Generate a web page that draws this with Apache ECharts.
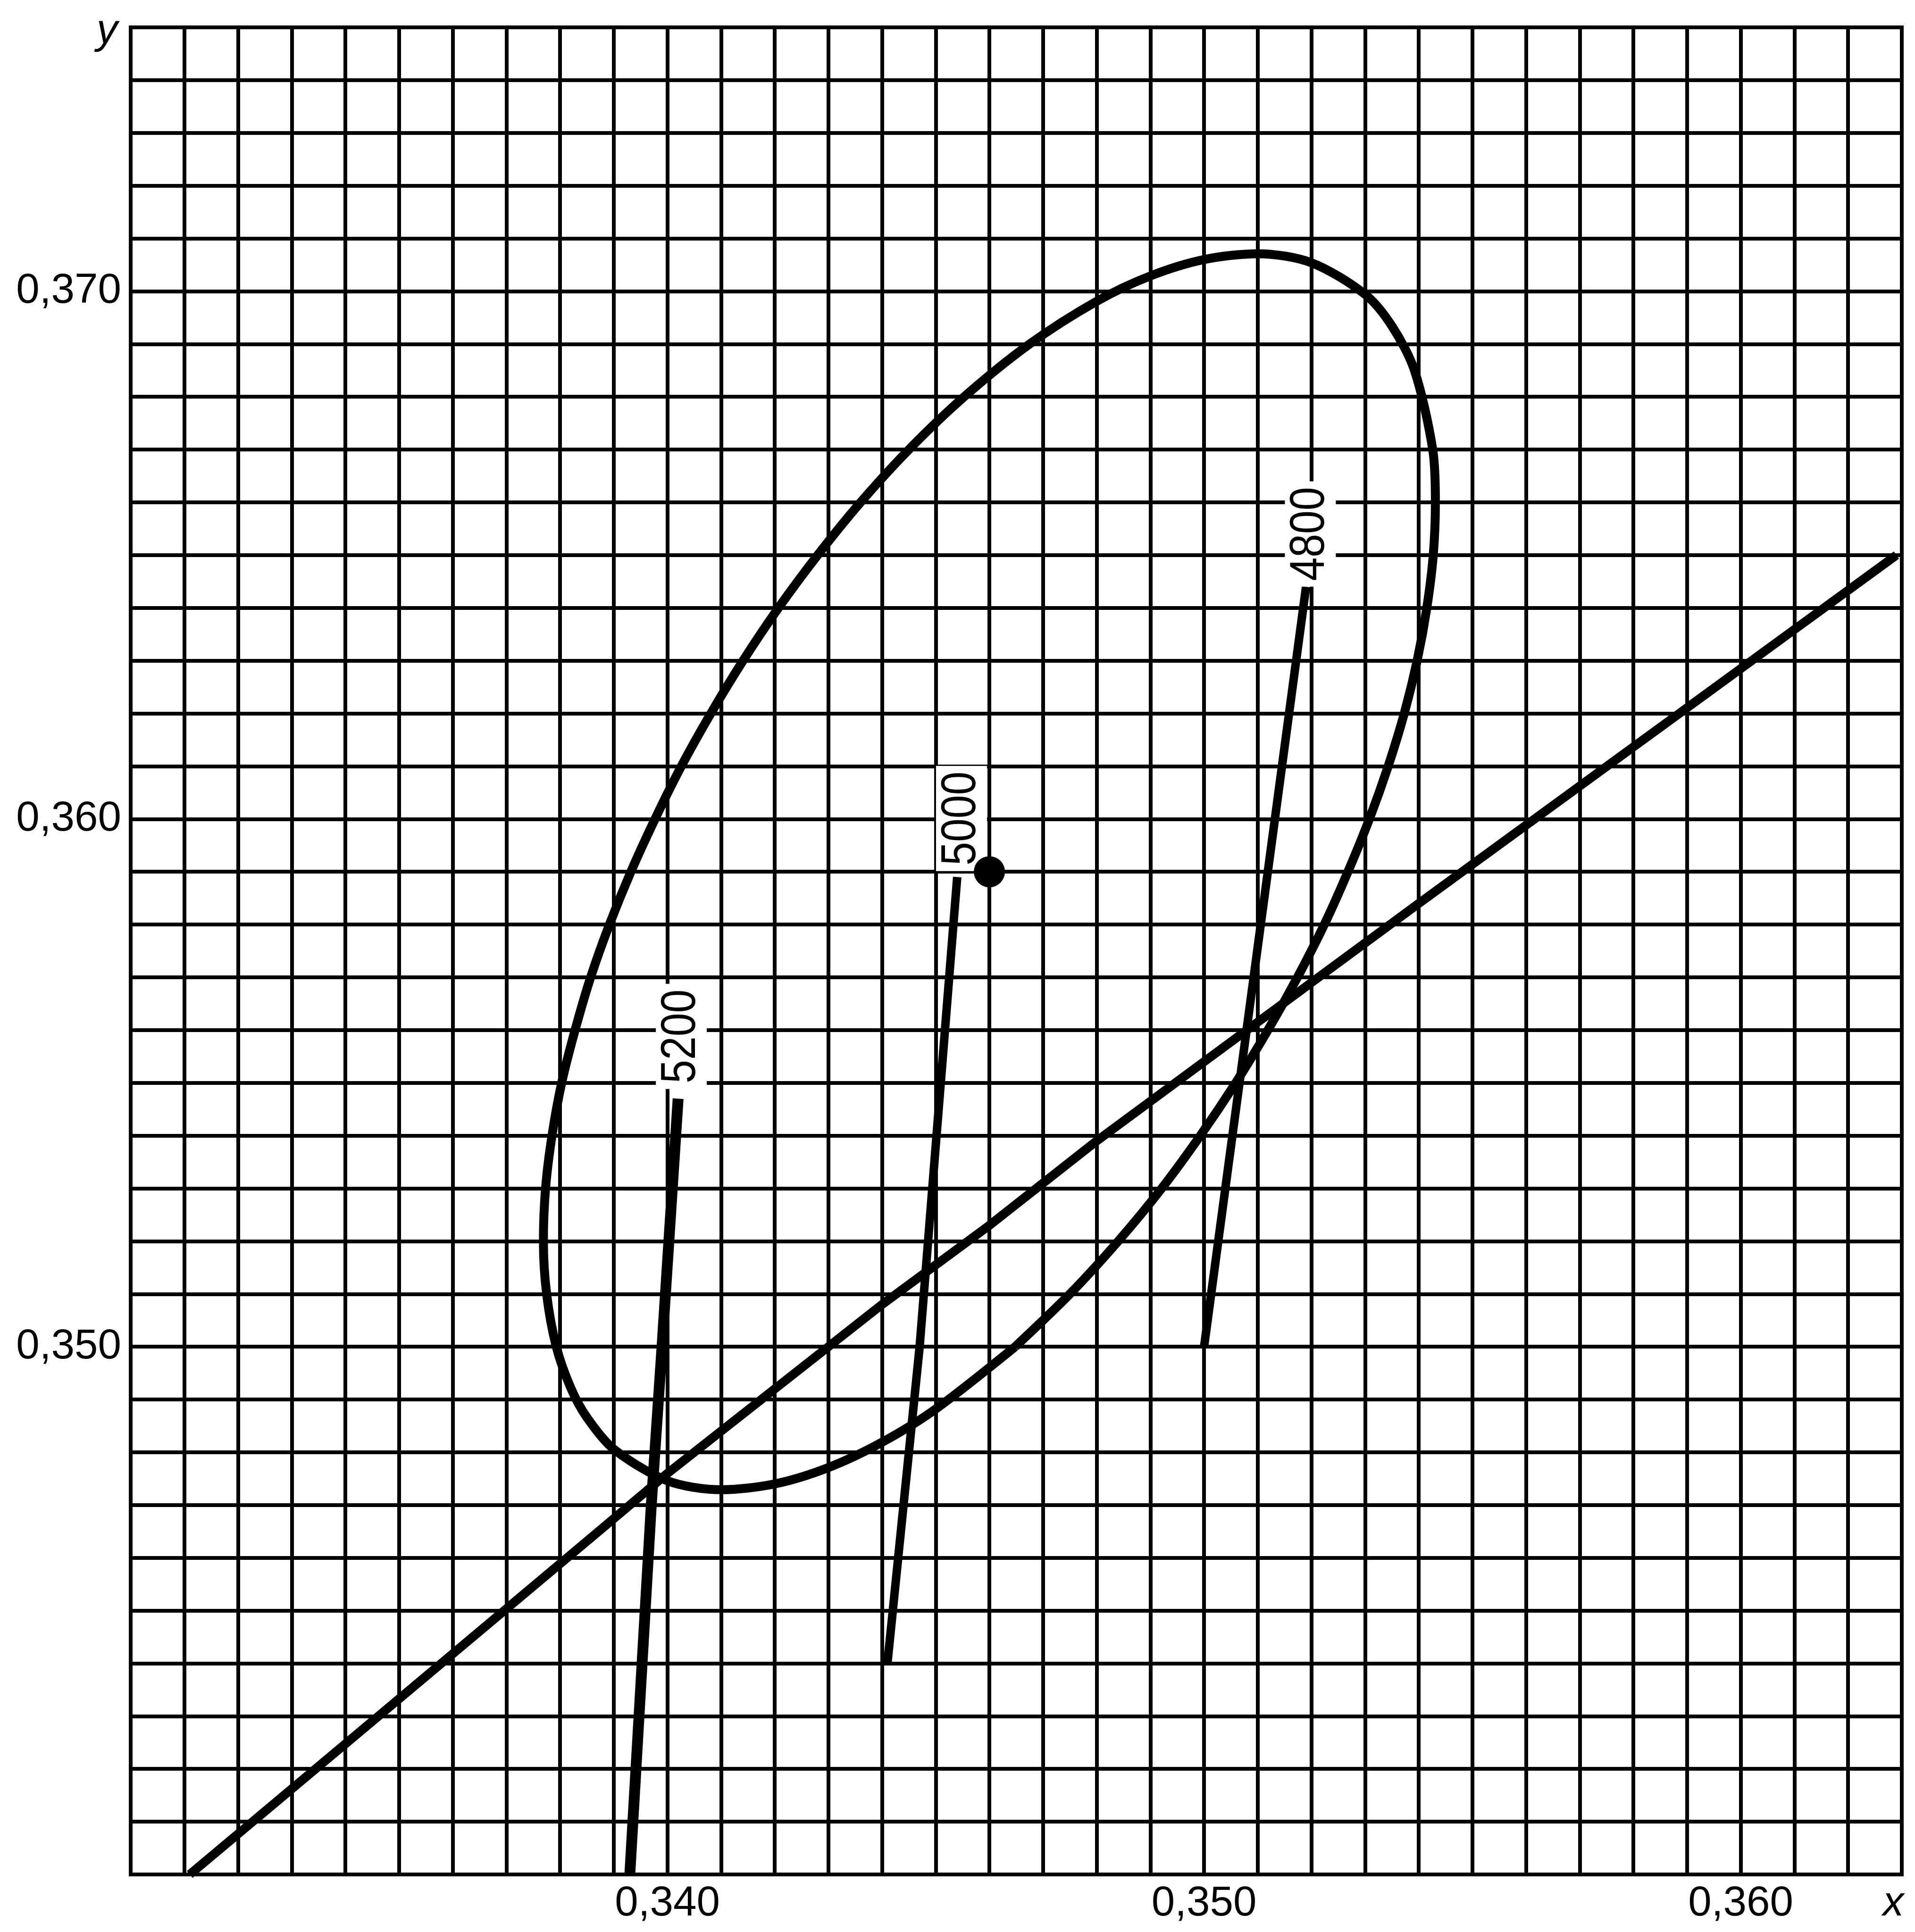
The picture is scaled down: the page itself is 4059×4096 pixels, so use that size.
<!DOCTYPE html>
<html>
<head>
<meta charset="utf-8">
<script src="https://cdn.jsdelivr.net/npm/echarts@6/dist/echarts.min.js"></script>
<style>
html, body { margin: 0; padding: 0; background: #fff; }
#chart { width: 4059px; height: 4096px; }
</style>
</head>
<body>
<div id="chart"></div>
<script>
// tick labels (grid line every 0.001, only these carry text)
const xTickValues = [0.340, 0.350, 0.360];
const xTickLabels = ['0,340', '0,350', '0,360'];
const yTickValues = [0.350, 0.360, 0.370];
const yTickLabels = ['0,350', '0,360', '0,370'];

// black body locus
const locusX = [0.3311, 0.3345, 0.3386, 0.3400, 0.3420, 0.3440, 0.3460, 0.3480, 0.3500, 0.3520, 0.3540, 0.3629];
const locusY = [0.3400, 0.3429, 0.3464, 0.3476, 0.3492, 0.3508, 0.3523, 0.3539, 0.3554, 0.3569, 0.3584, 0.3650];

// tolerance ellipse, read round clockwise from its lower right side
const ellipseX = [0.34648, 0.34500, 0.34400, 0.34300, 0.34200, 0.34100, 0.34000, 0.33900, 0.33850, 0.33820,
  0.33793, 0.33775, 0.33769, 0.33773, 0.33785, 0.33803, 0.33828, 0.33857, 0.33892, 0.33932,
  0.33977, 0.34026, 0.34081, 0.34141, 0.34207, 0.34280, 0.34360, 0.34450, 0.34553, 0.34675,
  0.34800, 0.34900, 0.35000, 0.35100, 0.35200, 0.35300, 0.35350, 0.35392, 0.35426, 0.35431,
  0.35427, 0.35415, 0.35397, 0.35373, 0.35343, 0.35308, 0.35268, 0.35224, 0.35174, 0.35119,
  0.35059, 0.34993, 0.34921, 0.34840, 0.34750, 0.34648];
const ellipseY = [0.35000, 0.34882, 0.34819, 0.34771, 0.34740, 0.34729, 0.34746, 0.34806, 0.34866, 0.34922,
  0.35000, 0.35100, 0.35200, 0.35300, 0.35400, 0.35500, 0.35600, 0.35700, 0.35800, 0.35900,
  0.36000, 0.36100, 0.36200, 0.36300, 0.36400, 0.36500, 0.36600, 0.36700, 0.36800, 0.36900,
  0.36981, 0.37029, 0.37060, 0.37071, 0.37054, 0.36994, 0.36934, 0.36850, 0.36700, 0.36600,
  0.36500, 0.36400, 0.36300, 0.36200, 0.36100, 0.36000, 0.35900, 0.35800, 0.35700, 0.35600,
  0.35500, 0.35400, 0.35300, 0.35200, 0.35100, 0.35000];

// isotemperature lines
const isoNames = ['5200', '5000', '4800'];
const iso5200X = [0.3393, 0.3397, 0.3399, 0.3402];
const iso5200Y = [0.3400, 0.3470, 0.3500, 0.3547];
const iso5000X = [0.3441, 0.3447, 0.3454];
const iso5000Y = [0.3440, 0.3500, 0.3589];
const iso4800X = [0.3500, 0.3519];
const iso4800Y = [0.3500, 0.3644];
const isoLabelX = [0.34026, 0.34548, 0.35198];
const isoLabelY = [0.35588, 0.36001, 0.36540];

// marked point (centre of the ellipse)
const pointX = [0.346];
const pointY = [0.359];

const font = '"Liberation Sans", Arial, sans-serif';
const chart = echarts.init(document.getElementById('chart'));

function pairs (xs, ys) {
  return xs.map(function (x, i) { return [x, ys[i]] });
}

function tickFormatter (values, labels) {
  return function (v) {
    let k = Math.round(v * 1000);
    let i = values.findIndex(function (t) { return Math.round(t * 1000) === k });
    return i < 0 ? '' : labels[i];
  };
}

function curve (name, xs, ys, width, smooth) {
  return {
    name: name,
    type: 'line',
    data: pairs(xs, ys),
    symbol: 'none',
    smooth: smooth || false,
    z: 3,
    lineStyle: { color: '#000', width: width, cap: 'butt', join: 'round' }
  };
}

let option = {
  animation: false,
  backgroundColor: '#fff',
  grid: {
    left: 277, right: 28, top: 58, bottom: 122,
    show: true, borderColor: '#000', borderWidth: 8
  },
  xAxis: {
    type: 'value',
    min: 0.330, max: 0.363, interval: 0.001,
    axisLine: { show: false },
    axisTick: { show: false },
    splitLine: { show: true, lineStyle: { color: '#000', width: 8 } },
    axisLabel: {
      formatter: tickFormatter(xTickValues, xTickLabels),
      fontSize: 89, fontFamily: font, color: '#000', margin: 18
    },
    name: 'x',
    nameLocation: 'end',
    nameGap: -18,
    nameTextStyle: {
      fontSize: 89, fontFamily: font, fontStyle: 'italic', color: '#000',
      align: 'center', verticalAlign: 'top', padding: [18, 0, 0, 0]
    }
  },
  yAxis: {
    type: 'value',
    min: 0.340, max: 0.375, interval: 0.001,
    axisLine: { show: false },
    axisTick: { show: false },
    splitLine: { show: true, lineStyle: { color: '#000', width: 8 } },
    axisLabel: {
      formatter: tickFormatter(yTickValues, yTickLabels),
      fontSize: 89, fontFamily: font, color: '#000', margin: 20
    },
    name: 'y',
    nameLocation: 'end',
    nameGap: -8,
    nameTextStyle: {
      fontSize: 89, fontFamily: font, fontStyle: 'italic', color: '#000',
      align: 'center', verticalAlign: 'middle', padding: [0, 100, 0, 0]
    }
  },
  series: [
    curve('locus', locusX, locusY, 19),
    curve('ellipse', ellipseX, ellipseY, 19, 0.3),
    curve('5200', iso5200X, iso5200Y, 23),
    curve('5000', iso5000X, iso5000Y, 18),
    curve('4800', iso4800X, iso4800Y, 18),
    {
      name: 'point',
      type: 'scatter',
      data: pairs(pointX, pointY),
      symbol: 'circle',
      symbolSize: 66,
      z: 10,
      itemStyle: { color: '#000', opacity: 1 }
    }
  ]
};
chart.setOption(option);

// temperature labels, rotated, with white box over the grid
let labels = isoNames.map(function (name, i) {
  let p = chart.convertToPixel({ gridIndex: 0 }, [isoLabelX[i], isoLabelY[i]]);
  return {
    type: 'text',
    x: p[0], y: p[1],
    rotation: Math.PI / 2,
    scaleX: 0.86,
    z: 5,
    style: {
      text: name,
      fontSize: 104, fontFamily: font, lineHeight: 104,
      fill: '#000', textFill: '#000',
      align: 'center', verticalAlign: 'middle',
      textAlign: 'center', textVerticalAlign: 'middle',
      backgroundColor: '#fff', textBackgroundColor: '#fff',
      padding: [2, 14, 2, 14], textPadding: [2, 14, 2, 14]
    }
  };
});
chart.setOption({ graphic: { elements: labels } });
</script>
</body>
</html>
